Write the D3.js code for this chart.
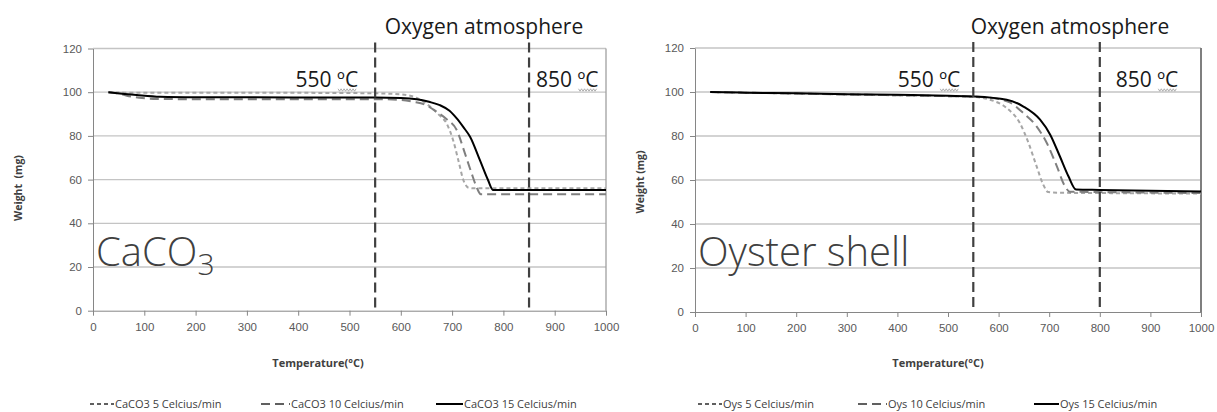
<!DOCTYPE html>
<html>
<head>
<meta charset="utf-8">
<script src="https://cdn.jsdelivr.net/npm/d3@7"></script>
<style>
  body { margin: 0; background: #fff; }
  svg { font-family: "Open Sans", sans-serif; }
  .axis text { fill: #595959; font-size: 11.5px; }
  .axis path, .axis line { stroke: #868686; }
</style>
</head>
<body>
<div id="chart"></div>
<script>
// ---- data ----
var tempTicks = [0, 100, 200, 300, 400, 500, 600, 700, 800, 900, 1000];
var weightTicks = [0, 20, 40, 60, 80, 100, 120];

// CaCO3, [temperature, weight]
var caco3_5 = [[30,100],[60,99.8],[100,99.7],[200,99.7],[300,99.7],[400,99.7],[500,99.6],[550,99.5],[600,99],[630,97.5],[657,93.4],[675,89.5],[689,85.8],[702,78],[712,69],[722,59.8],[732,56.3],[742,56],[850,56],[1000,56]];
var caco3_10 = [[30,100],[50,99.4],[66,98.4],[90,97.5],[124,96.9],[200,96.8],[400,96.8],[550,96.8],[598,96.5],[625,95.6],[650,94],[670,91],[690,87.5],[709,82.7],[725,72],[738,62.9],[747,57],[756,53.3],[800,53.3],[1000,53.3]];
var caco3_15 = [[30,100],[85,98.7],[131,97.9],[200,97.7],[400,97.6],[550,97.6],[600,97.4],[631,96.8],[655,95.6],[676,94.1],[695,91.5],[709,88],[722,84],[735,79.6],[754,69],[770,59.8],[780,55.2],[800,55.2],[1000,55.2]];

// Oyster shell
var oys_5 = [[30,100],[100,99.7],[200,99.3],[300,98.9],[400,98.5],[500,98.1],[550,97.8],[583,96.5],[616,92.7],[642,85.9],[659,76.9],[675,66.3],[688,58],[698,54.5],[720,54.2],[850,54],[1000,53.8]];
var oys_10 = [[30,100],[100,99.7],[200,99.3],[300,98.9],[400,98.5],[500,98.1],[550,97.9],[600,96.8],[622,95.3],[649,90.4],[675,84.4],[695,76.9],[715,66.3],[731,57.2],[741,54.7],[800,54.5],[1000,54.1]];
var oys_15 = [[30,100],[100,99.7],[200,99.4],[300,99],[400,98.7],[500,98.3],[550,98],[616,96.5],[649,93.4],[682,87.4],[702,80.6],[721,70.8],[738,61.7],[753,55.7],[800,55.5],[1000,54.8]];

var caco3Markers = [550, 850];
var oysMarkers = [550, 800];
var markerLabels = ['550 ºC', '850 ºC'];
var caco3Legend = ['CaCO3 5 Celcius/min', 'CaCO3 10 Celcius/min', 'CaCO3 15 Celcius/min'];
var oysLegend = ['Oys 5 Celcius/min', 'Oys 10 Celcius/min', 'Oys 15 Celcius/min'];

// ---- drawing ----
var seriesStyle = [
    { color: '#a6a6a6', dash: '4,3' },
    { color: '#7f7f7f', dash: '9,5' },
    { color: '#000000', dash: null }
];

var svg = d3.select('#chart').append('svg')
    .attr('width', 1217)
    .attr('height', 412);

// spell-check style wavy underline under "ºC"
function squiggle(g, x0, x1, y) {
    var pts = [];
    for (var x = x0, k = 0; x <= x1; x += 1.5, k++) {
        pts.push([x, y + (k % 2 ? 1.2 : -1.2)]);
    }
    g.append('path')
        .attr('d', d3.line()(pts))
        .attr('fill', 'none')
        .attr('stroke', '#9a9a9a')
        .attr('stroke-width', 0.8);
}

function drawPanel(cfg) {
    var g = svg.append('g');

    var x = d3.scaleLinear().domain([0, 1000]).range(cfg.xRange);
    var y = d3.scaleLinear().domain([0, 120]).range(cfg.yRange);

    // gridlines
    g.selectAll('.grid')
        .data(weightTicks.filter(function(d) { return d > 0; }))
        .enter().append('line')
        .attr('x1', x(0)).attr('x2', x(1000))
        .attr('y1', function(d) { return y(d); })
        .attr('y2', function(d) { return y(d); })
        .attr('stroke', '#c4c4c4')
        .attr('stroke-width', 1.3);

    // right frame
    g.append('line')
        .attr('x1', x(1000)).attr('x2', x(1000))
        .attr('y1', y(120)).attr('y2', y(0))
        .attr('stroke', cfg.frameColor)
        .attr('stroke-width', cfg.frameWidth);

    var xAxis = d3.axisBottom(x).tickValues(tempTicks).tickFormat(d3.format('d'))
        .tickSize(5).tickSizeOuter(0).tickPadding(7);
    var yAxis = d3.axisLeft(y).tickValues(weightTicks).tickFormat(d3.format('d'))
        .tickSize(5).tickSizeOuter(0).tickPadding(6);

    g.append('g').attr('class', 'axis')
        .attr('transform', 'translate(0,' + y(0) + ')')
        .call(xAxis);
    g.append('g').attr('class', 'axis')
        .attr('transform', 'translate(' + x(0) + ',0)')
        .call(yAxis);

    // series
    var line = d3.line()
        .x(function(d) { return x(d[0]); })
        .y(function(d) { return y(d[1]); })
        .curve(d3.curveMonotoneX);

    cfg.series.forEach(function(s, i) {
        g.append('path')
            .datum(s)
            .attr('d', line)
            .attr('fill', 'none')
            .attr('stroke', seriesStyle[i].color)
            .attr('stroke-width', 2)
            .attr('stroke-dasharray', seriesStyle[i].dash);
    });

    // marker temperatures
    cfg.markers.forEach(function(m, i) {
        g.append('line')
            .attr('x1', x(m)).attr('x2', x(m))
            .attr('y1', y(120) - 6).attr('y2', y(0) - 2)
            .attr('stroke', '#404040')
            .attr('stroke-width', 2.2)
            .attr('stroke-dasharray', '10,5');

        var t = g.append('text')
            .attr('x', x(m) + cfg.labelOffsets[i])
            .attr('y', 87)
            .attr('text-anchor', i === 0 ? 'end' : 'start')
            .attr('fill', '#1a1a1a')
            .style('font-size', '21px')
            .text(markerLabels[i]);
        var bb = t.node().getBBox();
        var w = t.node().getSubStringLength(0, 4);
        squiggle(g, bb.x + w + 1, bb.x + bb.width - 1, 90);
    });

    g.append('text')
        .attr('x', cfg.oxygenX)
        .attr('y', 34)
        .attr('text-anchor', 'middle')
        .attr('fill', '#1a1a1a')
        .style('font-size', '21px')
        .text('Oxygen atmosphere');

    // sample name
    var name = g.append('text')
        .attr('x', x(0) + 3)
        .attr('y', 266)
        .attr('fill', '#404040')
        .style('font-size', '40px')
        .style('font-weight', 300);
    name.append('tspan').text(cfg.name);
    if (cfg.sub) {
        name.append('tspan')
            .attr('dy', 9)
            .style('font-size', '30px')
            .text(cfg.sub);
    }

    // axis titles
    g.append('text')
        .attr('x', cfg.xTitleX)
        .attr('y', 367)
        .attr('text-anchor', 'middle')
        .attr('fill', '#404040')
        .style('font-size', '11px')
        .style('font-weight', 'bold')
        .text('Temperature(°C)');

    g.append('text')
        .attr('transform', 'translate(' + cfg.yTitle[0] + ',' + cfg.yTitle[1] + ') rotate(-90)')
        .attr('text-anchor', 'middle')
        .attr('fill', '#404040')
        .style('font-size', '10.5px')
        .style('font-weight', 'bold')
        .style('white-space', 'pre')
        .text(cfg.yTitleText);

    // legend
    cfg.legend.forEach(function(label, i) {
        var lx = cfg.legendX[i];
        g.append('line')
            .attr('x1', lx).attr('x2', lx + cfg.legendSym[i])
            .attr('y1', 404).attr('y2', 404)
            .attr('stroke', i === 2 ? '#000' : '#606060')
            .attr('stroke-width', 2)
            .attr('stroke-dasharray', seriesStyle[i].dash);
        g.append('text')
            .attr('x', lx + cfg.legendSym[i] + 1)
            .attr('y', 408)
            .attr('fill', '#404040')
            .style('font-size', '11px')
            .text(label);
    });
}

drawPanel({
    xRange: [93, 606],
    yRange: [310.7, 48.5],
    series: [caco3_5, caco3_10, caco3_15],
    markers: caco3Markers,
    labelOffsets: [-17, 7],
    oxygenX: 484,
    name: 'CaCO',
    sub: '3',
    xTitleX: 318,
    yTitle: [22, 188],
    yTitleText: 'Weight  (mg)',
    legend: caco3Legend,
    legendX: [90, 261, 436],
    legendSym: [24, 29, 27],
    frameColor: '#a0a0a0',
    frameWidth: 1.3
});

drawPanel({
    xRange: [695, 1201],
    yRange: [312, 48],
    series: [oys_5, oys_10, oys_15],
    markers: oysMarkers,
    labelOffsets: [-13, 16],
    oxygenX: 1070,
    name: 'Oyster shell',
    sub: null,
    xTitleX: 938,
    yTitle: [644, 182],
    yTitleText: 'Weight (mg)',
    legend: oysLegend,
    legendX: [698, 858, 1034],
    legendSym: [24, 29, 25],
    frameColor: '#7f7f7f',
    frameWidth: 2
});
</script>
</body>
</html>
